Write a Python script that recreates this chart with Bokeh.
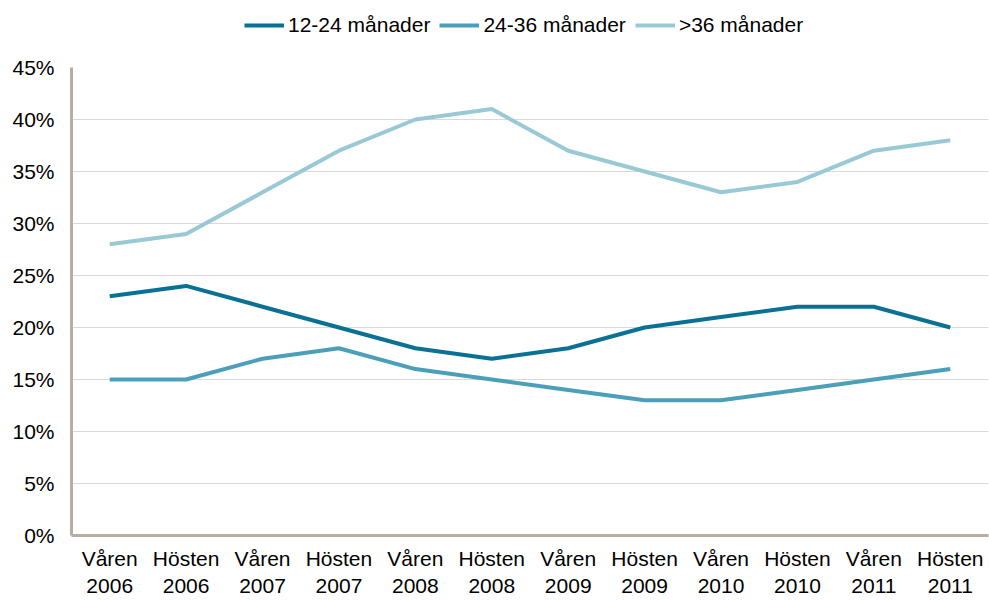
from bokeh.plotting import figure
from bokeh.layouts import column
from bokeh.models import ColumnDataSource, Legend, LegendItem, FactorRange, FixedTicker, CustomJSTickFormatter
from bokeh.embed import file_html
from bokeh.resources import INLINE

categories = ["Våren\n2006", "Hösten\n2006", "Våren\n2007", "Hösten\n2007", "Våren\n2008", "Hösten\n2008",
              "Våren\n2009", "Hösten\n2009", "Våren\n2010", "Hösten\n2010", "Våren\n2011", "Hösten\n2011"]
s_12_24 = [23, 24, 22, 20, 18, 17, 18, 20, 21, 22, 22, 20]
s_24_36 = [15, 15, 17, 18, 16, 15, 14, 13, 13, 14, 15, 16]
s_36 = [28, 29, 33, 37, 40, 41, 37, 35, 33, 34, 37, 38]
series_names = ["12-24 månader", "24-36 månader", ">36 månader"]
colors = ["#0a7194", "#4b9fb8", "#9ac9d6"]
y_ticks = [0, 5, 10, 15, 20, 25, 30, 35, 40, 45]

FONT = "Liberation Sans"
FS = "21px"

# main chart
p = figure(width=989, height=555, x_range=FactorRange(*categories, range_padding=0), y_range=(0, 45),
           output_backend="svg", toolbar_location=None,
           min_border_left=71, min_border_right=1, min_border_top=22, min_border_bottom=65)
p.outline_line_color = None
p.background_fill_color = "white"

# legend strip above the chart (same series, drawn outside its visible y range)
lg = figure(width=989, height=45, output_backend="svg", toolbar_location=None,
            x_axis_type=None, y_axis_type=None,
            x_range=FactorRange(*categories, range_padding=0), y_range=(100, 101),
            min_border=0)
lg.outline_line_color = None
lg.xgrid.grid_line_color = None
lg.ygrid.grid_line_color = None

items = []
for vals, name, c in zip([s_12_24, s_24_36, s_36], series_names, colors):
    src = ColumnDataSource(dict(x=categories, y=vals))
    p.line("x", "y", source=src, line_color=c, line_width=4)
    r = lg.line("x", "y", source=src, line_color=c, line_width=4)
    items.append(LegendItem(label=name, renderers=[r]))

legend = Legend(items=items, orientation="horizontal", location=(173, 8),
                label_text_font=FONT, label_text_font_size=FS, label_text_color="#000000",
                glyph_width=40, glyph_height=24, spacing=9, label_standoff=4,
                padding=0, margin=0, border_line_color=None, background_fill_alpha=0)
lg.add_layout(legend, "center")

p.xgrid.grid_line_color = None
p.ygrid.grid_line_color = "#d9d9d9"
p.ygrid.grid_line_width = 1
p.ygrid.ticker = FixedTicker(ticks=y_ticks)

p.yaxis.ticker = FixedTicker(ticks=y_ticks)
p.yaxis.formatter = CustomJSTickFormatter(code="return tick + '%';")
for ax in (p.xaxis[0], p.yaxis[0]):
    ax.axis_line_color = "#b6ae a1".replace(" ", "")
    ax.axis_line_width = 3
    ax.major_tick_line_color = None
    ax.minor_tick_line_color = None
    ax.major_label_text_font = FONT
    ax.major_label_text_font_size = FS
    ax.major_label_text_color = "#000000"
p.yaxis.major_label_standoff = 11
p.xaxis.major_label_standoff = 5

layout = column(lg, p, spacing=0)
open("out.html", "w").write(file_html(layout, INLINE))
